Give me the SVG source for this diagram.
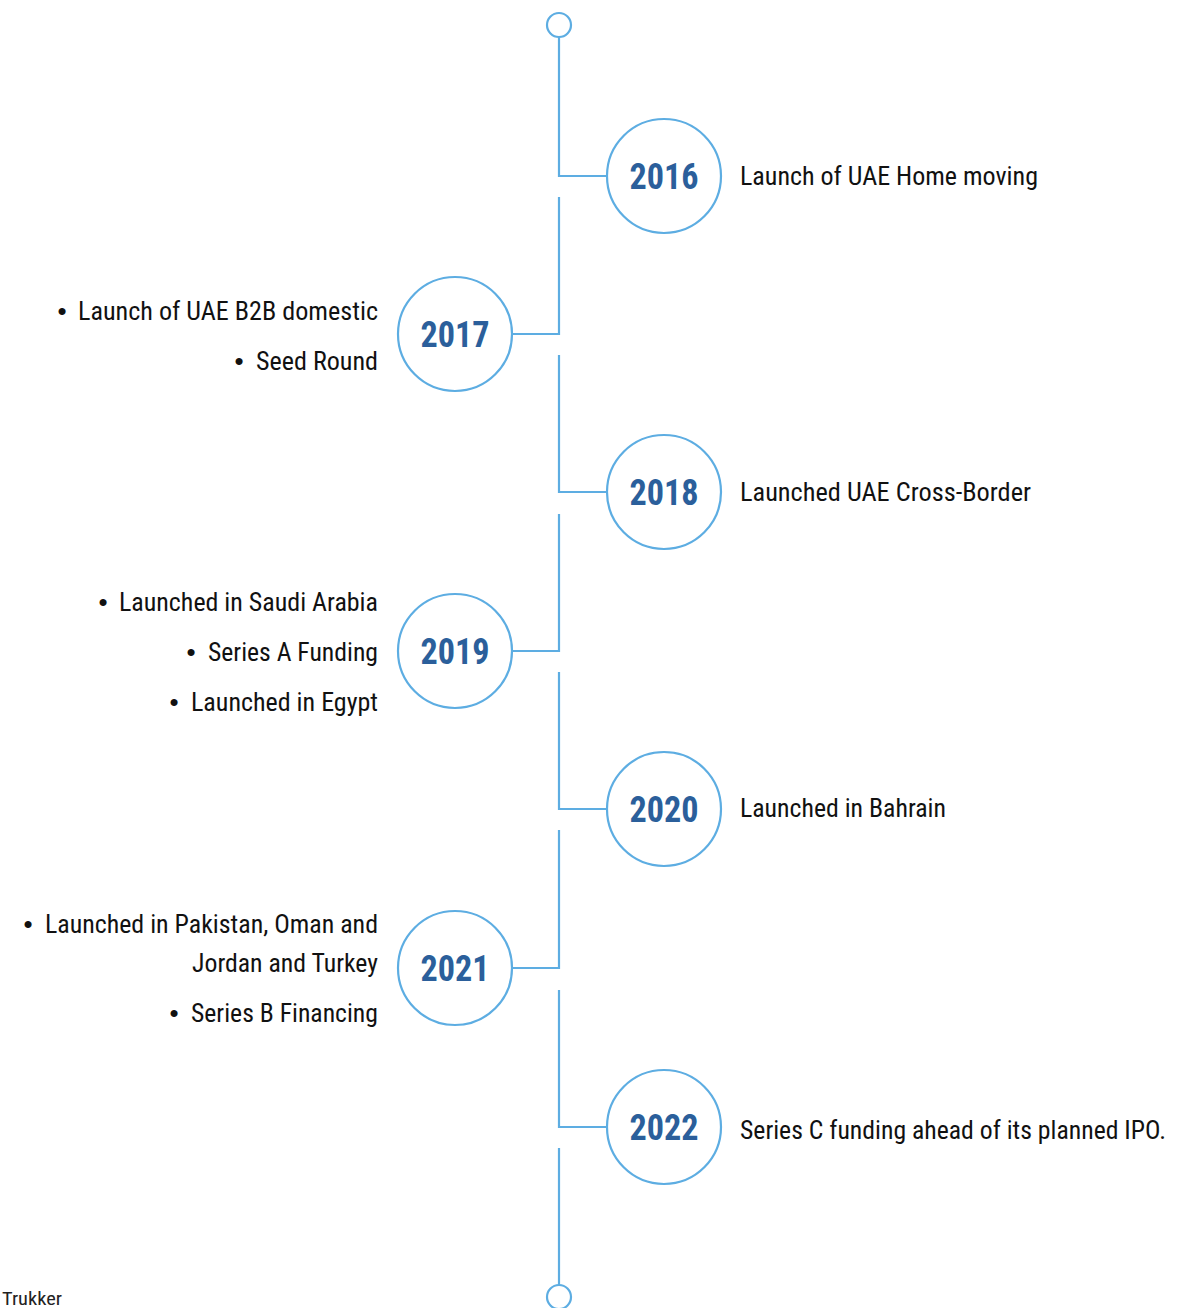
<svg xmlns="http://www.w3.org/2000/svg" width="1198" height="1308" viewBox="0 0 1198 1308">
<style>
.ln{fill:none;stroke:#5dade2;stroke-width:2.2}
.yc{fill:#fff;stroke:#5dade2;stroke-width:2.2}
.yr{font-family:"Liberation Sans Narrow","Roboto Condensed","DejaVu Sans Condensed","Liberation Sans",sans-serif;font-weight:bold;font-size:36px;fill:#2b5f9b;text-anchor:middle}
.tx{font-family:"Liberation Sans Narrow","Roboto Condensed","DejaVu Sans Condensed","Liberation Sans",sans-serif;font-size:25px;fill:#111}
.bl{font-family:"Liberation Sans","DejaVu Sans",sans-serif;font-size:26px;fill:#111;text-anchor:middle}
.ft{font-family:"Liberation Sans Narrow","Roboto Condensed","DejaVu Sans Condensed","Liberation Sans",sans-serif;font-size:19px;fill:#222}
</style>
<rect width="1198" height="1308" fill="#fff"/>
<g id="connectors">
<circle class="ln" cx="559" cy="25" r="12"/>
<path class="ln" d="M559 37 V176 H607"/>
<path class="ln" d="M559 197 V334 H513"/>
<path class="ln" d="M559 355 V492 H607"/>
<path class="ln" d="M559 514 V651 H513"/>
<path class="ln" d="M559 672 V809 H607"/>
<path class="ln" d="M559 830 V968 H513"/>
<path class="ln" d="M559 990 V1127 H607"/>
<path class="ln" d="M559 1148 V1285"/>
<circle class="ln" cx="559" cy="1297" r="12"/>
</g>
<g id="node-2016">
<circle class="yc" cx="664" cy="176" r="57"/>
<text class="yr" x="664" y="189" textLength="69" lengthAdjust="spacingAndGlyphs">2016</text>
<text class="tx" x="740" y="185" textLength="298" lengthAdjust="spacingAndGlyphs">Launch of UAE Home moving</text>
</g>
<g id="node-2017">
<circle class="yc" cx="455" cy="334" r="57"/>
<text class="yr" x="455" y="347" textLength="69" lengthAdjust="spacingAndGlyphs">2017</text>
<text class="bl" x="62" y="320">•</text>
<text class="tx" x="78" y="320" textLength="300" lengthAdjust="spacingAndGlyphs">Launch of UAE B2B domestic</text>
<text class="bl" x="239" y="370">•</text>
<text class="tx" x="256" y="370" textLength="122" lengthAdjust="spacingAndGlyphs">Seed Round</text>
</g>
<g id="node-2018">
<circle class="yc" cx="664" cy="492" r="57"/>
<text class="yr" x="664" y="505" textLength="69" lengthAdjust="spacingAndGlyphs">2018</text>
<text class="tx" x="740" y="501" textLength="291" lengthAdjust="spacingAndGlyphs">Launched UAE Cross-Border</text>
</g>
<g id="node-2019">
<circle class="yc" cx="455" cy="651" r="57"/>
<text class="yr" x="455" y="664" textLength="69" lengthAdjust="spacingAndGlyphs">2019</text>
<text class="bl" x="103" y="611">•</text>
<text class="tx" x="119" y="611" textLength="259" lengthAdjust="spacingAndGlyphs">Launched in Saudi Arabia</text>
<text class="bl" x="191" y="661">•</text>
<text class="tx" x="208" y="661" textLength="170" lengthAdjust="spacingAndGlyphs">Series A Funding</text>
<text class="bl" x="174" y="711">•</text>
<text class="tx" x="191" y="711" textLength="187" lengthAdjust="spacingAndGlyphs">Launched in Egypt</text>
</g>
<g id="node-2020">
<circle class="yc" cx="664" cy="809" r="57"/>
<text class="yr" x="664" y="822" textLength="69" lengthAdjust="spacingAndGlyphs">2020</text>
<text class="tx" x="740" y="817" textLength="206" lengthAdjust="spacingAndGlyphs">Launched in Bahrain</text>
</g>
<g id="node-2021">
<circle class="yc" cx="455" cy="968" r="57"/>
<text class="yr" x="455" y="981" textLength="69" lengthAdjust="spacingAndGlyphs">2021</text>
<text class="bl" x="28" y="933">•</text>
<text class="tx" x="45" y="933" textLength="333" lengthAdjust="spacingAndGlyphs">Launched in Pakistan, Oman and</text>
<text class="tx" x="192" y="972" textLength="186" lengthAdjust="spacingAndGlyphs">Jordan and Turkey</text>
<text class="bl" x="174" y="1022">•</text>
<text class="tx" x="191" y="1022" textLength="187" lengthAdjust="spacingAndGlyphs">Series B Financing</text>
</g>
<g id="node-2022">
<circle class="yc" cx="664" cy="1127" r="57"/>
<text class="yr" x="664" y="1140" textLength="69" lengthAdjust="spacingAndGlyphs">2022</text>
<text class="tx" x="740" y="1139" textLength="426" lengthAdjust="spacingAndGlyphs">Series C funding ahead of its planned IPO.</text>
</g>
<text class="ft" x="2" y="1305" textLength="60" lengthAdjust="spacingAndGlyphs">Trukker</text>
</svg>
